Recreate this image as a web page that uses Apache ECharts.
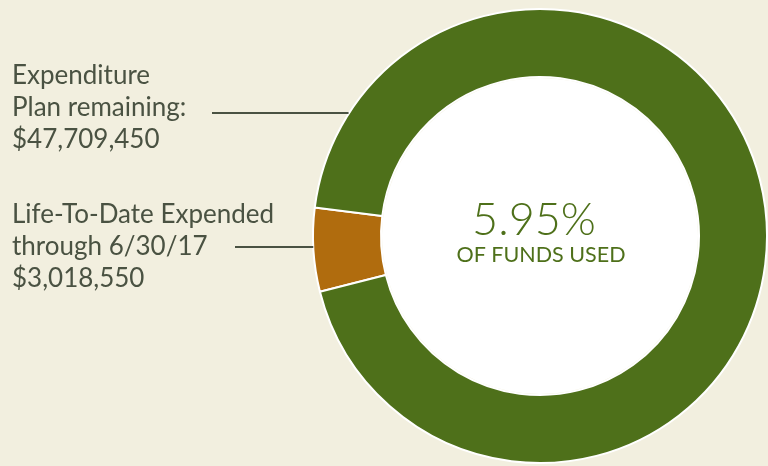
<!DOCTYPE html>
<html>
<head>
<meta charset="utf-8">
<script src="https://cdn.jsdelivr.net/npm/echarts@6/dist/echarts.min.js"></script>
<style>
  html, body { margin: 0; padding: 0; background: #f2efdf; }
  #chart { width: 768px; height: 466px; }
</style>
</head>
<body>
<div id="chart"></div>
<script>
// Funding split: spent to date vs. remaining plan
const categories = ['Life-To-Date Expended', 'Expenditure Plan remaining'];
const amounts = [3018550, 47709450];
const labelLines = [
  ['Life-To-Date Expended', 'through 6/30/17', '$3,018,550'],
  ['Expenditure', 'Plan remaining:', '$47,709,450']
];
const centerCaption = 'OF FUNDS USED';

const GREEN = '#4e701a';
const ORANGE = '#b06c0e';
const TEXT = '#4a5242';
const FONT = 'Lato, "Open Sans", sans-serif';

const cx = 540, cy = 236, rOuter = 227, rInner = 159;
const total = amounts.reduce((a, b) => a + b, 0);
const pctUsed = (amounts[0] / total * 100).toFixed(2) + '%';

const chart = echarts.init(document.getElementById('chart'), null, { renderer: 'canvas' });

// x of the outer ring edge at a given angle (degrees, counter-clockwise from east)
function edgeX(deg) { return cx + rOuter * Math.cos(deg * Math.PI / 180); }

chart.setOption({
  backgroundColor: '#f2efdf',
  animation: false,
  series: [
    {
      type: 'pie',
      center: [cx, cy],
      radius: [rInner, rOuter],
      startAngle: 194.2,
      clockwise: true,
      silent: true,
      label: { show: false },
      labelLine: { show: false },
      itemStyle: { borderColor: '#ffffff', borderWidth: 2 },
      data: categories.map((name, i) => ({
        name, value: amounts[i],
        itemStyle: { color: i === 0 ? ORANGE : GREEN }
      }))
    },
    {
      type: 'pie',
      center: [cx, cy],
      radius: [0, rInner - 1],
      silent: true,
      label: { show: false },
      labelLine: { show: false },
      itemStyle: { color: '#ffffff' },
      data: [{ name: 'hole', value: 1 }]
    }
  ],
  graphic: {
    elements: [
      {
        type: 'text', x: 534, y: 220, z: 100,
        style: { text: pctUsed, fill: GREEN, font: '300 45px ' + FONT, align: 'center', verticalAlign: 'middle' }
      },
      {
        type: 'text', x: 541, y: 255, z: 100,
        style: { text: centerCaption, fill: GREEN, font: '21.5px ' + FONT, align: 'center', verticalAlign: 'middle' }
      },
      {
        type: 'text', x: 12, y: 60, z: 100,
        style: { text: labelLines[1].join('\n'), fill: TEXT, font: '26px ' + FONT, lineHeight: 32 }
      },
      {
        type: 'text', x: 12, y: 199, z: 100,
        style: { text: labelLines[0].join('\n'), fill: TEXT, font: '26px ' + FONT, lineHeight: 32 }
      },
      {
        type: 'line', z: 100,
        shape: { x1: 212, y1: 113, x2: edgeX(147.5), y2: 113 },
        style: { stroke: TEXT, lineWidth: 2 }
      },
      {
        type: 'line', z: 100,
        shape: { x1: 235, y1: 247, x2: edgeX(182.8), y2: 247 },
        style: { stroke: TEXT, lineWidth: 2 }
      }
    ]
  }
});
</script>
</body>
</html>
